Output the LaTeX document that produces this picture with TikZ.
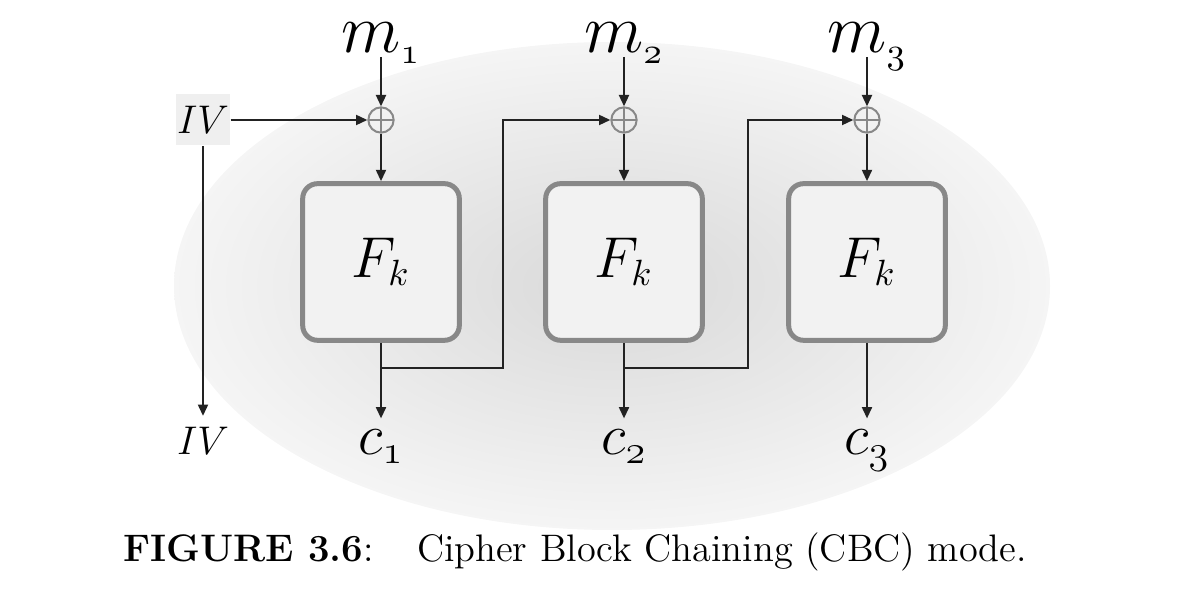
\documentclass[tikz,border=0pt]{standalone}
\usetikzlibrary{arrows.meta,positioning}
\definecolor{boxedge}{HTML}{888888}
\definecolor{boxfill}{HTML}{F2F2F2}
\definecolor{ivfill}{HTML}{EFEFEF}
\definecolor{wire}{HTML}{222222}
\begin{document}
\begin{tikzpicture}[x=0.3pt, y=0.3pt, >={Triangle[length=3.4pt,width=3pt]},
  fnbox/.style={draw=boxedge, line width=1.5pt, rounded corners=4.5pt, fill=boxfill, minimum size=47pt, font=\fontsize{16}{19}\selectfont},
  xorop/.style={circle, draw=boxedge, line width=0.6pt, minimum size=7.6pt, inner sep=0pt,
    path picture={\draw[boxedge, line width=0.6pt] (path picture bounding box.north) -- (path picture bounding box.south)
      (path picture bounding box.west) -- (path picture bounding box.east);}},
  msg/.style={font=\fontsize{21}{24}\selectfont, inner sep=1pt, text depth=0pt, anchor=base},
  ctext/.style={font=\fontsize{18.5}{22}\selectfont, anchor=base},
  ivbox/.style={fill=ivfill, minimum width=16.2pt, minimum height=15.3pt, inner sep=0pt, font=\fontsize{12}{14}\selectfont},
  flow/.style={->, wire, line width=0.6pt}]
  \useasboundingbox (0,0) rectangle (1180,590);
  % shaded backdrop
  \shade[inner color=black!15, outer color=black!4] (612,304) ellipse [x radius=438, y radius=244];
  % three rounds of the block cipher
  \node[fnbox] (f1) at (381,328) {$F_k$};
  \node[fnbox] (f2) at (624,328) {$F_k$};
  \node[fnbox] (f3) at (867,328) {$F_k$};
  \node[xorop] (x1) at (381,470) {};
  \node[xorop] (x2) at (624,470) {};
  \node[xorop] (x3) at (867,470) {};
  \node[msg] (m1) at (381,537) {$m_{\scriptscriptstyle\oldstylenums{1}}$};
  \node[msg] (m2) at (624,537) {$m_{\scriptscriptstyle\oldstylenums{2}}$};
  \node[msg] (m3) at (867,537) {$m_{\scriptscriptstyle\oldstylenums{3}}$};
  \node[ctext] (c1) at (381,135) {$c_{\oldstylenums{1}}$};
  \node[ctext] (c2) at (624,135) {$c_{\oldstylenums{2}}$};
  \node[ctext] (c3) at (867,135) {$c_{\oldstylenums{3}}$};
  \node[ivbox] (iv) at (203,470) {$IV$};
  \node[font=\fontsize{12}{14}\selectfont, anchor=base] (ivout) at (203,135) {$IV$};
  \coordinate (j1) at (381,222);
  \coordinate (t1) at (503,222);
  \coordinate (j2) at (624,222);
  \coordinate (t2) at (748,222);
  % connectors
  \draw[flow] (iv) -- (x1);
  \draw[flow] (iv) -- (ivout);
  \draw[flow] (m1) -- (x1);
  \draw[flow] (m2) -- (x2);
  \draw[flow] (m3) -- (x3);
  \draw[flow] (x1) -- (f1);
  \draw[flow] (x2) -- (f2);
  \draw[flow] (x3) -- (f3);
  \draw[flow] (f1) -- (c1);
  \draw[flow] (f2) -- (c2);
  \draw[flow] (f3) -- (c3);
  \draw[flow] (j1) -| (t1) |- (x2);
  \draw[flow] (j2) -| (t2) |- (x3);
  % caption
  \node[anchor=base, font=\fontsize{11.5}{13.5}\selectfont] (caption) at (575,28) {\textbf{FIGURE 3.6}:\hspace{13pt}Cipher Block Chaining (CBC) mode.};
\end{tikzpicture}
\end{document}
